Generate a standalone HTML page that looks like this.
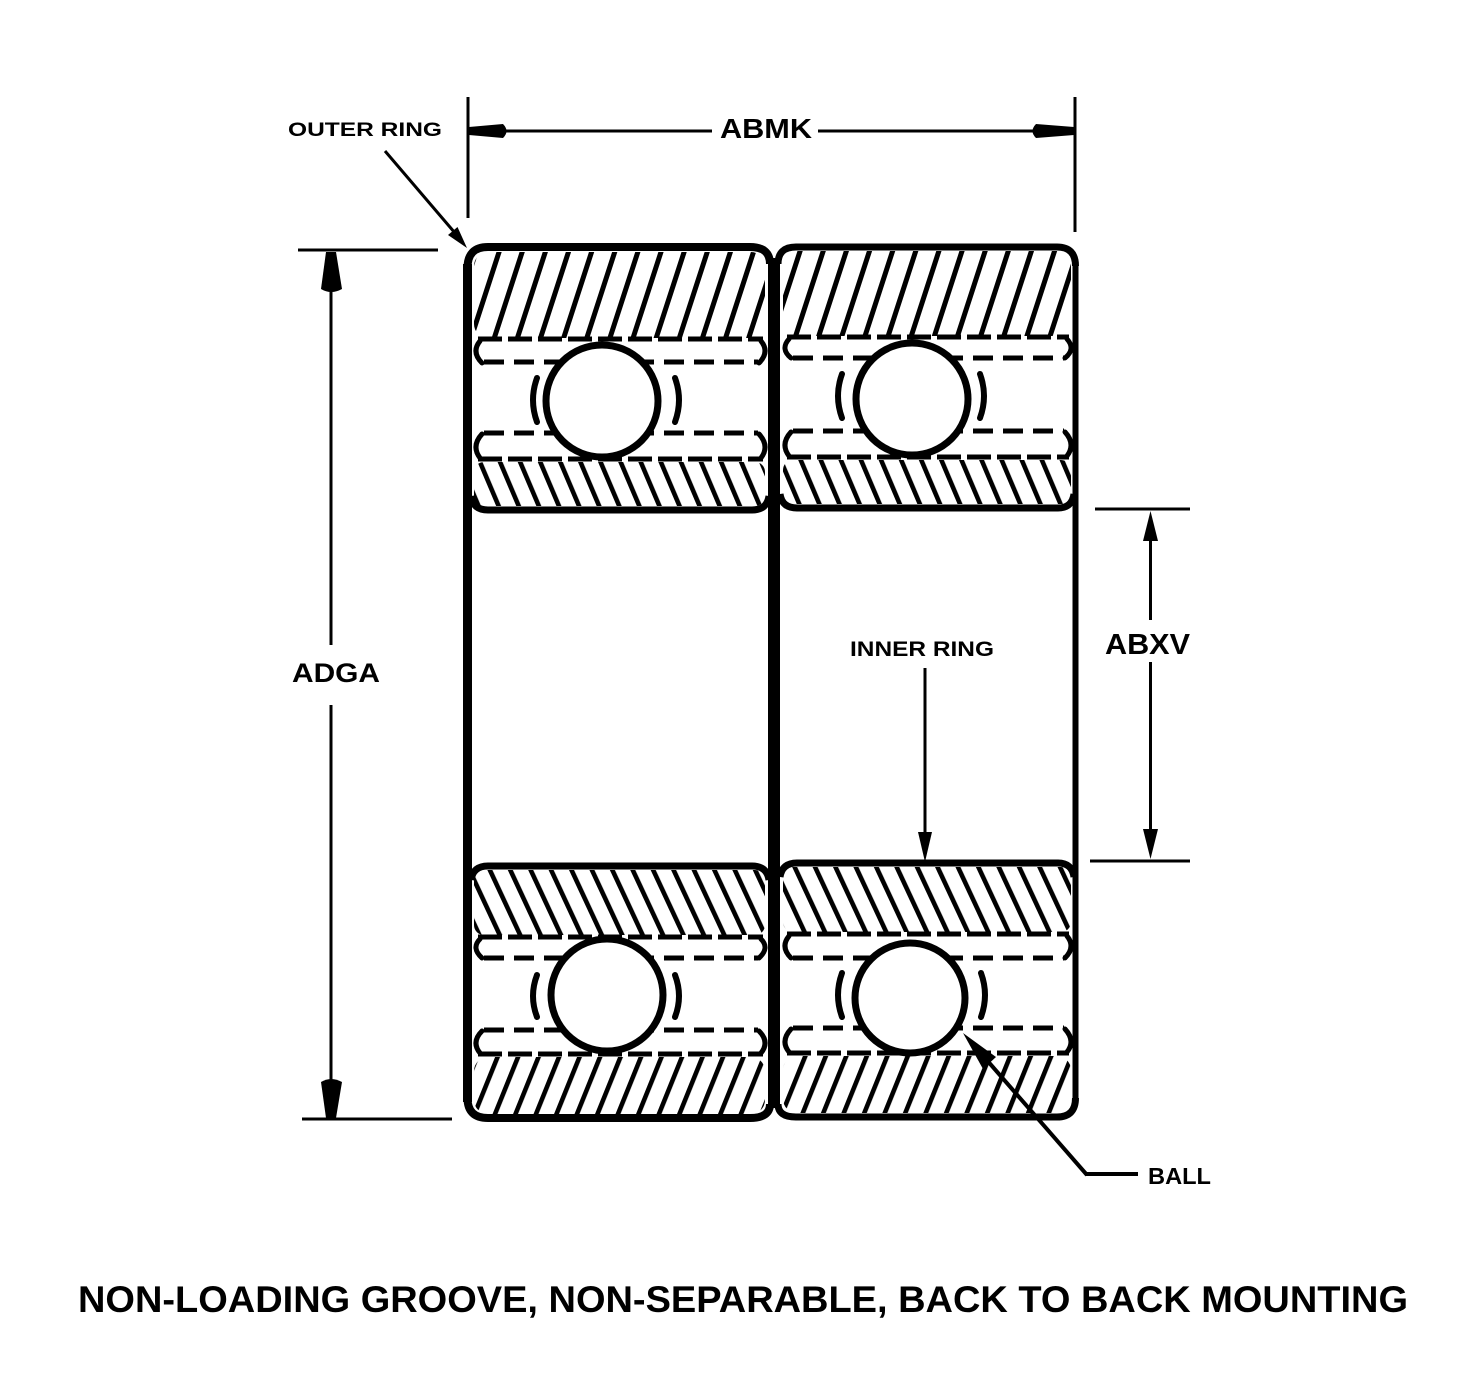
<!DOCTYPE html>
<html>
<head>
<meta charset="utf-8">
<style>
html,body{margin:0;padding:0;background:#fff;}
svg{display:block;}
</style>
</head>
<body>
<svg width="1460" height="1380" viewBox="0 0 1460 1380" xmlns="http://www.w3.org/2000/svg" font-family="'Liberation Sans', Arial, sans-serif" font-weight="bold">
<defs>
  <pattern id="pOut" patternUnits="userSpaceOnUse" width="22" height="40" patternTransform="rotate(18)">
    <rect x="0" y="0" width="5" height="40" fill="#000"/>
  </pattern>
  <pattern id="pIn" patternUnits="userSpaceOnUse" width="18.5" height="40" patternTransform="rotate(-23)">
    <rect x="0" y="0" width="4.6" height="40" fill="#000"/>
  </pattern>
  <pattern id="pInB" patternUnits="userSpaceOnUse" width="18.5" height="40" patternTransform="rotate(-25)">
    <rect x="0" y="0" width="4.6" height="40" fill="#000"/>
  </pattern>
  <pattern id="pOutB" patternUnits="userSpaceOnUse" width="19" height="40" patternTransform="rotate(22)">
    <rect x="0" y="0" width="4.6" height="40" fill="#000"/>
  </pattern>
</defs>

<rect width="1460" height="1380" fill="#fff"/>

<!-- ============ LEFT BEARING TOP ============ -->
<rect x="474" y="252" width="291" height="86" rx="14" fill="url(#pOut)"/>
<line x1="478" y1="339" x2="763" y2="339" stroke="#000" stroke-width="5" stroke-dasharray="24 6"/>
<path d="M480,341 Q471,352 482,363 M761,341 Q770,352 759,363" stroke="#000" stroke-width="5" fill="none" stroke-linecap="round"/>
<line x1="484" y1="362" x2="758" y2="362" stroke="#000" stroke-width="5" stroke-dasharray="20 10"/>
<line x1="484" y1="433" x2="758" y2="433" stroke="#000" stroke-width="5" stroke-dasharray="20 10"/>
<path d="M482,434 Q471,446 480,458 M759,434 Q770,446 761,458" stroke="#000" stroke-width="5" fill="none" stroke-linecap="round"/>
<line x1="478" y1="459" x2="763" y2="459" stroke="#000" stroke-width="5" stroke-dasharray="24 6"/>
<rect x="474" y="462" width="291" height="44" rx="10" fill="url(#pIn)"/>
<circle cx="602" cy="401" r="56" fill="#fff" stroke="#000" stroke-width="7"/>
<path d="M537,378 Q529,400 537,422 M675,378 Q683,400 675,422" stroke="#000" stroke-width="6" fill="none" stroke-linecap="round"/>

<!-- ============ RIGHT BEARING TOP ============ -->
<rect x="783" y="251" width="288" height="85" rx="14" fill="url(#pOut)"/>
<line x1="787" y1="337" x2="1069" y2="337" stroke="#000" stroke-width="5" stroke-dasharray="24 6"/>
<path d="M789,339 Q780,349 791,358 M1067,339 Q1076,349 1065,358" stroke="#000" stroke-width="5" fill="none" stroke-linecap="round"/>
<line x1="793" y1="358" x2="1064" y2="358" stroke="#000" stroke-width="5" stroke-dasharray="20 10"/>
<line x1="793" y1="431" x2="1064" y2="431" stroke="#000" stroke-width="5" stroke-dasharray="20 10"/>
<path d="M791,432 Q780,444 789,456 M1065,432 Q1076,444 1067,456" stroke="#000" stroke-width="5" fill="none" stroke-linecap="round"/>
<line x1="787" y1="457" x2="1069" y2="457" stroke="#000" stroke-width="5" stroke-dasharray="24 6"/>
<rect x="783" y="460" width="288" height="44" rx="10" fill="url(#pIn)"/>
<circle cx="912" cy="399" r="56" fill="#fff" stroke="#000" stroke-width="7"/>
<path d="M842,374 Q834,396 842,418 M980,374 Q988,396 980,418" stroke="#000" stroke-width="6" fill="none" stroke-linecap="round"/>

<!-- ============ LEFT BEARING BOTTOM ============ -->
<rect x="474" y="870" width="291" height="65" rx="10" fill="url(#pInB)"/>
<line x1="478" y1="937" x2="763" y2="937" stroke="#000" stroke-width="5" stroke-dasharray="24 6"/>
<path d="M480,939 Q471,948 482,958 M761,939 Q770,948 759,958" stroke="#000" stroke-width="5" fill="none" stroke-linecap="round"/>
<line x1="484" y1="958" x2="758" y2="958" stroke="#000" stroke-width="5" stroke-dasharray="20 10"/>
<line x1="484" y1="1030" x2="758" y2="1030" stroke="#000" stroke-width="5" stroke-dasharray="20 10"/>
<path d="M482,1031 Q471,1042 480,1053 M759,1031 Q770,1042 761,1053" stroke="#000" stroke-width="5" fill="none" stroke-linecap="round"/>
<line x1="478" y1="1054" x2="763" y2="1054" stroke="#000" stroke-width="5" stroke-dasharray="24 6"/>
<rect x="474" y="1057" width="291" height="57" rx="14" fill="url(#pOutB)"/>
<circle cx="607" cy="995" r="56" fill="#fff" stroke="#000" stroke-width="7"/>
<path d="M537,975 Q529,996 537,1017 M675,975 Q683,996 675,1017" stroke="#000" stroke-width="6" fill="none" stroke-linecap="round"/>

<!-- ============ RIGHT BEARING BOTTOM ============ -->
<rect x="783" y="867" width="288" height="65" rx="10" fill="url(#pInB)"/>
<line x1="787" y1="934" x2="1069" y2="934" stroke="#000" stroke-width="5" stroke-dasharray="24 6"/>
<path d="M789,936 Q780,947 791,958 M1067,936 Q1076,947 1065,958" stroke="#000" stroke-width="5" fill="none" stroke-linecap="round"/>
<line x1="793" y1="958" x2="1064" y2="958" stroke="#000" stroke-width="5" stroke-dasharray="20 10"/>
<line x1="793" y1="1028" x2="1064" y2="1028" stroke="#000" stroke-width="5" stroke-dasharray="20 10"/>
<path d="M791,1029 Q780,1041 789,1052 M1065,1029 Q1076,1041 1067,1052" stroke="#000" stroke-width="5" fill="none" stroke-linecap="round"/>
<line x1="787" y1="1053" x2="1069" y2="1053" stroke="#000" stroke-width="5" stroke-dasharray="24 6"/>
<rect x="783" y="1056" width="288" height="57" rx="14" fill="url(#pOutB)"/>
<circle cx="910" cy="998" r="55" fill="#fff" stroke="#000" stroke-width="7"/>
<path d="M842,973 Q834,995 842,1017 M981,973 Q989,995 981,1017" stroke="#000" stroke-width="6" fill="none" stroke-linecap="round"/>

<!-- ============ OUTLINES ============ -->
<line x1="467.5" y1="264" x2="467.5" y2="1102" stroke="#000" stroke-width="9"/>
<line x1="774" y1="258" x2="774" y2="1108" stroke="#000" stroke-width="12"/>
<line x1="1075.5" y1="262" x2="1075.5" y2="1102" stroke="#000" stroke-width="6"/>
<path d="M467.5,268 Q467.5,247 488,247 L750,247 Q770,247 770,264" stroke="#000" stroke-width="8" fill="none"/>
<path d="M778,264 Q778,247 796,247 L1057,247 Q1075.5,247 1075.5,266" stroke="#000" stroke-width="7" fill="none"/>
<path d="M471,496 Q473,510 488,510 L752,510 Q767,510 769,496" stroke="#000" stroke-width="7" fill="none"/>
<path d="M780,494 Q782,508 797,508 L1058,508 Q1072,508 1074,494" stroke="#000" stroke-width="7" fill="none"/>
<path d="M471,880 Q473,866 488,866 L752,866 Q767,866 769,880" stroke="#000" stroke-width="7" fill="none"/>
<path d="M780,877 Q782,863 797,863 L1058,863 Q1072,863 1074,877" stroke="#000" stroke-width="7" fill="none"/>
<path d="M467.5,1098 Q467.5,1118 488,1118 L750,1118 Q770,1118 770,1104" stroke="#000" stroke-width="8" fill="none"/>
<path d="M778,1104 Q778,1117 796,1117 L1057,1117 Q1075.5,1117 1075.5,1098" stroke="#000" stroke-width="7" fill="none"/>

<!-- ============ DIMENSION ABMK ============ -->
<line x1="468" y1="97" x2="468" y2="218" stroke="#000" stroke-width="3"/>
<line x1="1075" y1="97" x2="1075" y2="232" stroke="#000" stroke-width="3"/>
<line x1="500" y1="131" x2="712" y2="131" stroke="#000" stroke-width="3"/>
<line x1="818" y1="131" x2="1038" y2="131" stroke="#000" stroke-width="3"/>
<path d="M469,127 L503,124 Q510,131 503,138 L469,135 Z" fill="#000"/>
<path d="M1074,127 L1036,124 Q1029,131 1036,138 L1074,135 Z" fill="#000"/>
<text x="720" y="138" font-size="28" textLength="92" lengthAdjust="spacingAndGlyphs">ABMK</text>

<!-- ============ OUTER RING LABEL ============ -->
<text x="288" y="136" font-size="19.5" textLength="154" lengthAdjust="spacingAndGlyphs">OUTER RING</text>
<line x1="385" y1="151" x2="455" y2="233" stroke="#000" stroke-width="3"/>
<path d="M467,248 L448,235 L457.5,227 Z" fill="#000"/>

<!-- ============ DIMENSION ADGA ============ -->
<line x1="298" y1="250" x2="438" y2="250" stroke="#000" stroke-width="3"/>
<line x1="302" y1="1119" x2="452" y2="1119" stroke="#000" stroke-width="3"/>
<line x1="331" y1="280" x2="331" y2="645" stroke="#000" stroke-width="3"/>
<line x1="331" y1="705" x2="331" y2="1090" stroke="#000" stroke-width="3"/>
<path d="M321,289 Q331,295 342,289 L336,252 L326,252 Z" fill="#000"/>
<path d="M321,1082 Q331,1076 342,1082 L336,1118 L326,1118 Z" fill="#000"/>
<text x="292" y="682" font-size="27" textLength="88" lengthAdjust="spacingAndGlyphs">ADGA</text>

<!-- ============ DIMENSION ABXV ============ -->
<line x1="1095" y1="509" x2="1190" y2="509" stroke="#000" stroke-width="3"/>
<line x1="1090" y1="861" x2="1190" y2="861" stroke="#000" stroke-width="3"/>
<line x1="1150.5" y1="535" x2="1150.5" y2="620" stroke="#000" stroke-width="3"/>
<line x1="1150.5" y1="662" x2="1150.5" y2="835" stroke="#000" stroke-width="3"/>
<path d="M1150.5,511 L1158,541 L1143,541 Z" fill="#000"/>
<path d="M1150.5,859 L1158,829 L1143,829 Z" fill="#000"/>
<text x="1105" y="654" font-size="29" textLength="85" lengthAdjust="spacingAndGlyphs">ABXV</text>

<!-- ============ INNER RING LABEL ============ -->
<text x="850" y="656" font-size="21" textLength="144" lengthAdjust="spacingAndGlyphs">INNER RING</text>
<line x1="925" y1="668" x2="925" y2="838" stroke="#000" stroke-width="3"/>
<path d="M925,862 L932,832 L918,832 Z" fill="#000"/>

<!-- ============ BALL LABEL ============ -->
<line x1="1138" y1="1174" x2="1086" y2="1174" stroke="#000" stroke-width="4"/>
<line x1="1087" y1="1175" x2="985" y2="1058" stroke="#000" stroke-width="4"/>
<path d="M963,1033 L996,1057 L983,1069 Z" fill="#000"/>
<text x="1148" y="1184" font-size="23" textLength="63" lengthAdjust="spacingAndGlyphs">BALL</text>

<!-- ============ TITLE ============ -->
<text x="78" y="1312" font-size="37" textLength="1330" lengthAdjust="spacingAndGlyphs">NON-LOADING GROOVE, NON-SEPARABLE, BACK TO BACK MOUNTING</text>
</svg>
</body>
</html>
